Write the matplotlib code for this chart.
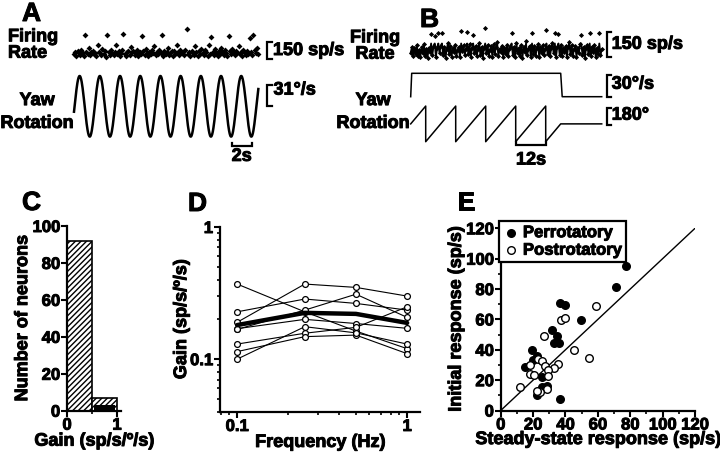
import numpy as np
import matplotlib
matplotlib.use('Agg')
import matplotlib.pyplot as plt
import matplotlib.patheffects as pe
from matplotlib.ticker import LogLocator, NullFormatter, MultipleLocator

plt.rcParams['font.family'] = ['Liberation Sans', 'DejaVu Sans']
plt.rcParams['font.weight'] = 'bold'
plt.rcParams['axes.labelweight'] = 'bold'

# ---- data ----
# A: firing rate (sp/s) during sinusoidal yaw rotation
rate_a = [45, 62, 30, 71, 52, 38, 80, 57, 26, 210, 66, 48, 95, 35, 59,
          74, 41, 55, 28, 118, 63, 50, 33, 86, 47, 69, 22, 205, 58, 40,
          77, 53, 36, 64, 120, 44, 70, 31, 56, 82, 215, 49, 27, 61, 75,
          39, 105, 58, 68, 34, 52, 79, 24, 60, 46, 200, 72, 37, 88, 54,
          29, 66, 43, 76, 51, 112, 35, 63, 48, 83, 57, 205, 30, 71, 45,
          62, 98, 38, 55, 74, 27, 67, 42, 125, 59, 33, 78, 50, 65, 36,
          81, 262, 47, 58, 25, 73, 54, 39, 110, 64, 31, 69, 44, 86, 52,
          35, 76, 60, 28, 118, 49, 190, 66, 40, 84, 56, 32, 71, 47, 100,
          63, 38, 79, 53, 26, 195, 68, 45, 90, 58, 34, 74, 50, 115, 41,
          66, 29, 82, 55, 37, 70, 48, 185, 61, 33, 210, 77, 52, 95, 44]
dur_a = 18.25          # s
sine_freq = 0.5        # Hz
sine_amp = 44.8        # deg/s
sine_phase = -0.18     # rad at trace start

# B: firing rate (sp/s) during constant-velocity rotation
rate_b = [40, 72, 18, 65, 30, 85, 22, 58, 12, 76, 35, 90, 20, 62, 8, 70, 45, 150, 25, 80,
          140, 15, 68, 155, 38, 82, 160, 28, 74, 10, 60, 95, 33, 78, 16, 66, 42, 88, 20, 57,
          73, 12, 170, 48, 84, 24, 64, 165, 30, 92, 14, 70, 148, 36, 80, 18, 62, 100, 26, 75,
          10, 68, 185, 40, 86, 22, 58, 78, 15, 90, 34, 72, 105, 20, 64, 44, 82, 12, 70, 30,
          88, 18, 60, 76, 160, 28, 74, 14, 95, 38, 66, 22, 84, 10, 72, 46, 110, 26, 62, 80,
          16, 158, 34, 78, 20, 68, 90, 12, 74, 40, 86, 24, 64, 175, 30, 82, 18, 70, 98, 36,
          158, 14, 76, 150, 28, 88, 20, 66, 44, 80, 12, 72, 102, 32, 84, 22, 60, 78, 16, 70,
          38, 92, 148, 26, 74, 10, 68, 86, 30, 160, 20, 76, 44, 88, 14, 66, 34, 156, 24, 60]
dur_b = 76.4
vel_t = [0, 0.4, 60, 60.6, 76.4]
vel_b = [0, 30, 30, 0, 0]
pos_t = [0, 6, 6, 18, 18, 30, 30, 42, 42, 54, 54, 60, 76.4]
pos_b = [180, 360, 0, 360, 0, 360, 0, 360, 0, 360, 0, 180, 180]

# C: gain histogram
bin_left = [0, 0.5]
count_all = [92, 7]
count_black = [0, 3]

# D: gain vs frequency
freqs = [0.1, 0.25, 0.5, 1]
gain_cells = [
    [0.37, 0.228, 0.163, 0.12],
    [0.19, 0.37, 0.349, 0.30],
    [0.228, 0.285, 0.264, 0.235],
    [0.168, 0.235, 0.31, 0.207],
    [0.17, 0.2, 0.186, 0.171],
    [0.13, 0.157, 0.174, 0.249],
    [0.114, 0.148, 0.152, 0.11],
    [0.1, 0.176, 0.158, 0.13],
]
gain_mean = [0.181, 0.224, 0.22, 0.188]

# E: initial vs steady-state response
per_ss = [77.4, 71.0, 36.6, 39.9, 49.6, 31.5, 34.6, 33.1, 35.8, 19.1, 20.1, 22.5,
          15.0, 25.3, 28.4, 25.3, 22.2, 36.6]
per_init = [95.1, 81.5, 70.5, 69.6, 59.7, 53.0, 49.3, 44.3, 44.3, 40.0, 33.1, 36.0,
            28.7, 21.9, 16.2, 15.4, 10.4, 7.6]
post_ss = [58.9, 37.4, 39.7, 26.9, 45.5, 54.5, 23.2, 25.3, 35.6, 18.1, 27.4, 33.1,
           18.1, 20.8, 29.4, 29.4, 11.9, 28.4, 24.3, 22.5]
post_init = [68.5, 59.7, 60.8, 48.8, 40.0, 34.8, 34.2, 32.5, 30.9, 29.8, 29.3, 27.7,
             24.0, 23.4, 26.6, 22.8, 15.4, 14.1, 11.9, 13.0]

W, H = 720, 454
fig = plt.figure(figsize=(7.2, 4.54), dpi=100)


def px_axes(x0, y0, x1, y1):
    return fig.add_axes([x0 / W, 1 - y1 / H, (x1 - x0) / W, (y1 - y0) / H])


def trace_axes(box, xp0, xs, yp0, ys):
    # box in pixels; data x = (px - xp0)/xs, data y = (yp0 - py)/ys
    ax = px_axes(*box)
    x0, y0, x1, y1 = box
    ax.set_xlim((x0 - xp0) / xs, (x1 - xp0) / xs)
    ax.set_ylim((yp0 - y1) / ys, (yp0 - y0) / ys)
    ax.axis('off')
    return ax


def bracket(ax, x, y0, y1, dx, label, ty, tx):
    ax.plot([x + dx, x, x, x + dx], [y0, y0, y1, y1], color='black', lw=1.6,
            clip_on=False, solid_joinstyle='miter')
    ax.text(tx, ty, label, fontsize=13, fontweight='bold', va='center', ha='left')


def time_bar(ax, t0, t1, y, tick, label, ty):
    ax.plot([t0, t0, t1, t1], [tick, y, y, tick], color='black', lw=1.6,
            clip_on=False, solid_joinstyle='miter')
    ax.text((t0 + t1) / 2, ty, label, fontsize=13, fontweight='bold',
            ha='center', va='center')


def fig_text(x, y, s, **kw):
    fig.text(x / W, 1 - y / H, s, **kw)


# ---------------- Panel A ----------------
xs_a = 10.1
ax = trace_axes((60, 15, 350, 66), 74, xs_a, 59.3, 0.1173)
t_a = np.linspace(0, dur_a, len(rate_a))
ax.plot(t_a, rate_a, 'D', color='black', ms=3.0, mew=0)
bracket(ax, 19.1, 0, 150, 0.5, '150 sp/s', 75, 19.7)

ax = trace_axes((60, 70, 350, 172), 74, xs_a, 106.3, 0.677)
t_s = np.linspace(0, dur_a, 600)
ax.plot(t_s, sine_amp * np.sin(2 * np.pi * sine_freq * t_s + sine_phase),
        color='black', lw=1.8)
bracket(ax, 19.1, 0, 31, 0.5, '31°/s', 24, 19.75)
time_bar(ax, 15.6, 17.6, -58.6, -54, '2s', -74)

fig_text(8, 45, 'Firing\nRate', fontsize=13, fontweight='bold', ha='left',
         va='center', linespacing=0.95)
fig_text(37, 112, 'Yaw\nRotation', fontsize=13, fontweight='bold', ha='center',
         va='center', linespacing=1.45)
fig_text(22, 14, 'A', fontsize=19, fontweight='bold', va='center')

# ---------------- Panel B ----------------
xs_b = 2.5
ax = trace_axes((400, 15, 720, 64), 410.7, xs_b, 59.3, 0.1667)
t_b = np.linspace(0, dur_b, len(rate_b))
ax.plot(t_b, np.minimum(rate_b, 95), '-', color='black', lw=1.3)
ax.plot(t_b, rate_b, 'D', color='black', ms=2.6, mew=0)
bracket(ax, 78.4, 15, 165, 1.6, '150 sp/s', 90, 80.4)

ax = trace_axes((400, 66, 720, 101), 410.7, xs_b, 96.7, 0.78)
ax.plot(vel_t, vel_b, color='black', lw=1.1)
bracket(ax, 78.4, 0, 28, 1.6, '30°/s', 16, 80.4)

ax = trace_axes((400, 101, 720, 172), 410.7, xs_b, 141.7, 0.099)
ax.plot(pos_t, pos_b, color='black', lw=1.1)
bracket(ax, 78.4, 168, 337, 1.6, '180°', 268, 80.4)
time_bar(ax, 42.1, 54.1, -35, -5, '12s', -185)

fig_text(375, 46, 'Firing\nRate', fontsize=13, fontweight='bold', ha='center',
         va='center', linespacing=0.95)
fig_text(373, 112, 'Yaw\nRotation', fontsize=13, fontweight='bold', ha='center',
         va='center', linespacing=1.45)
fig_text(420, 20, 'B', fontsize=19, fontweight='bold', va='center')


def style_axes(ax):
    for side in ('top', 'right'):
        ax.spines[side].set_visible(False)
    for side in ('left', 'bottom'):
        ax.spines[side].set_linewidth(1.6)
    ax.tick_params(which='major', direction='out', length=4, width=1.5,
                   labelsize=12, pad=1)
    ax.tick_params(which='minor', direction='out', length=2.5, width=1.2)


# ---------------- Panel C ----------------
ax = px_axes(67, 226, 121, 410.7)
ax.bar(bin_left, count_all, width=0.5, align='edge', color='white',
       edgecolor='black', hatch='//////', lw=1.2)
ax.bar([b + 0.04 for b in bin_left], count_black, width=0.42, align='edge',
       color='black', lw=0)
ax.set_xlim(0, 1.08)
ax.set_ylim(0, 100)
ax.set_yticks(range(0, 101, 20))
ax.set_xticks([0, 1])
ax.set_xticks([0.5], minor=True)
ax.set_ylabel('Number of neurons', fontsize=13, labelpad=1)
ax.set_xlabel('Gain (sp/s/º/s)', fontsize=13, labelpad=0)
style_axes(ax)
fig_text(22, 203, 'C', fontsize=19, fontweight='bold', va='center')

# ---------------- Panel D ----------------
ax = px_axes(220, 227, 420, 412)
for g in gain_cells:
    ax.plot(freqs, g, '-o', color='black', lw=0.8, ms=4.2, mfc='white', mew=0.9)
ax.plot(freqs, gain_mean, color='black', lw=3.2, solid_capstyle='round')
ax.set_xscale('log')
ax.set_yscale('log')
ax.set_xlim(0.0793, 1.19)
ax.set_ylim(0.0398, 1)
ax.set_xticks([0.1, 1])
ax.set_xticklabels(['0.1', '1'])
ax.set_yticks([0.1, 1])
ax.set_yticklabels(['0.1', '1'])
ax.xaxis.set_minor_locator(LogLocator(subs=np.arange(2, 10)))
ax.yaxis.set_minor_locator(LogLocator(subs=np.arange(2, 10)))
ax.xaxis.set_minor_formatter(NullFormatter())
ax.yaxis.set_minor_formatter(NullFormatter())
ax.set_ylabel('Gain (sp/s/º/s)', fontsize=13, labelpad=0)
ax.set_xlabel('Frequency (Hz)', fontsize=13, labelpad=0)
style_axes(ax)
fig_text(188, 204, 'D', fontsize=19, fontweight='bold', va='center')

# ---------------- Panel E ----------------
ax = px_axes(500.7, 228.3, 695, 410.5)
ax.plot([0, 120], [0, 120], color='black', lw=1)
ax.scatter(per_ss, per_init, s=30, color='black', zorder=3, label='Perrotatory')
ax.scatter(post_ss, post_init, s=30, facecolor='white', edgecolor='black',
           lw=1, zorder=3, label='Postrotatory')
ax.set_xlim(0, 120)
ax.set_ylim(0, 120)
ax.set_xticks(range(0, 121, 20))
ax.set_yticks(range(0, 121, 20))
ax.xaxis.set_minor_locator(MultipleLocator(10))
ax.yaxis.set_minor_locator(MultipleLocator(10))
ax.set_xlabel('Steady-state response (sp/s)', fontsize=13, labelpad=-1)
ax.set_ylabel('Initial response (sp/s)', fontsize=13, labelpad=1)
style_axes(ax)
leg = ax.legend(loc='upper left', bbox_to_anchor=(-0.01, 1.04), fancybox=False,
                edgecolor='black', borderpad=0.25, labelspacing=0.15,
                handletextpad=0.2, handlelength=1.0, borderaxespad=0,
                prop={'size': 12, 'weight': 'bold'})
leg.get_frame().set_linewidth(1.6)
leg.get_frame().set_alpha(1)
fig_text(457, 203, 'E', fontsize=19, fontweight='bold', va='center')

# heavier strokes on all text to match the dense bold type of the figure
fig.canvas.draw()
for t in fig.findobj(matplotlib.text.Text):
    t.set_fontweight('bold')
    t.set_path_effects([pe.withStroke(linewidth=0.7, foreground='black')])

fig.savefig('out.png', dpi=100, facecolor='white')
